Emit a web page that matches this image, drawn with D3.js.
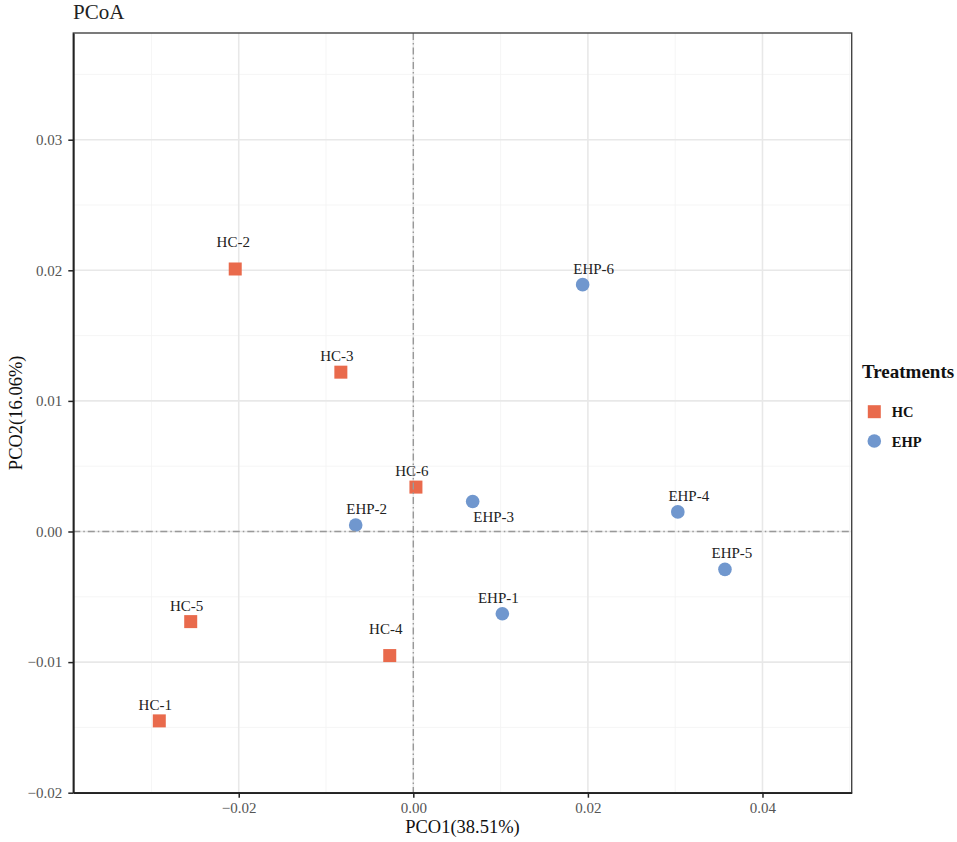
<!DOCTYPE html>
<html>
<head>
<meta charset="utf-8">
<script src="https://cdn.jsdelivr.net/npm/d3@7"></script>
<style>
  body { margin: 0; background: #fff; }
  svg { display: block; }
  svg text { font-family: "Liberation Serif", "Times New Roman", serif; }
</style>
</head>
<body>
<svg id="chart" width="957" height="842"></svg>
<script>
// sample names, group and coordinates
const samples = ["HC-1", "HC-2", "HC-3", "HC-4", "HC-5", "HC-6",
                 "EHP-1", "EHP-2", "EHP-3", "EHP-4", "EHP-5", "EHP-6"];
const groups = ["HC", "HC", "HC", "HC", "HC", "HC",
                "EHP", "EHP", "EHP", "EHP", "EHP", "EHP"];
const pco1 = [-0.0291, -0.0204, -0.0083, -0.0027, -0.0255, 0.0003,
              0.0102, -0.0066, 0.0068, 0.0303, 0.0357, 0.0194];
const pco2 = [-0.0145, 0.0201, 0.0122, -0.0095, -0.0069, 0.0034,
              -0.0063, 0.0005, 0.0023, 0.0015, -0.0029, 0.0189];
const treatments = ["HC", "EHP"];
const xTicks = [-0.02, 0.00, 0.02, 0.04];
const yTicks = [-0.02, -0.01, 0.00, 0.01, 0.02, 0.03];

// little label shifts (like ggrepel did)
const nudge = {
  "HC-2": [-2, -22], "HC-4": [-4, -22], "EHP-3": [21, 21],
  "EHP-2": [11, -11], "EHP-6": [11, -11], "EHP-4": [11, -11], "EHP-5": [7, -11]
};

const serif = "Liberation Serif, Times New Roman, serif";
const svg = d3.select("#chart");
const m = { left: 73.3, right: 851.7, top: 33, bottom: 792.7 };

const x = d3.scaleLinear().domain([-0.03895, 0.05022]).range([m.left, m.right]);
const y = d3.scaleLinear().domain([-0.02, 0.03817]).range([m.bottom, m.top]);
const color = d3.scaleOrdinal().domain(treatments).range(["#E96A4C", "#7097CE"]);

const fmt = d3.format(".2f");
const fmtTick = v => fmt(v).replace("-", "\u2212");

// minor grid
const xMinor = [-0.03, -0.01, 0.01, 0.03, 0.05];
const yMinor = [-0.015, -0.005, 0.005, 0.015, 0.025, 0.035];
svg.append("g").selectAll("line").data(xMinor).join("line")
  .attr("x1", d => x(d)).attr("x2", d => x(d)).attr("y1", m.top).attr("y2", m.bottom)
  .attr("stroke", "#f3f3f3").attr("stroke-width", 0.8);
svg.append("g").selectAll("line").data(yMinor).join("line")
  .attr("x1", m.left).attr("x2", m.right).attr("y1", d => y(d)).attr("y2", d => y(d))
  .attr("stroke", "#f3f3f3").attr("stroke-width", 0.8);

// major grid
svg.append("g").selectAll("line").data(xTicks).join("line")
  .attr("x1", d => x(d)).attr("x2", d => x(d)).attr("y1", m.top).attr("y2", m.bottom)
  .attr("stroke", "#e8e8e8").attr("stroke-width", 1.6);
svg.append("g").selectAll("line").data(yTicks).join("line")
  .attr("x1", m.left).attr("x2", m.right).attr("y1", d => y(d)).attr("y2", d => y(d))
  .attr("stroke", "#e8e8e8").attr("stroke-width", 1.6);

// points
const data = samples.map((s, i) => ({ name: s, group: groups[i], x: pco1[i], y: pco2[i] }));
const pts = svg.append("g");
pts.selectAll("rect").data(data.filter(d => d.group === "HC")).join("rect")
  .attr("x", d => x(d.x) - 6.5).attr("y", d => y(d.y) - 6.5)
  .attr("width", 13).attr("height", 13)
  .attr("fill", d => color(d.group));
pts.selectAll("circle").data(data.filter(d => d.group === "EHP")).join("circle")
  .attr("cx", d => x(d.x)).attr("cy", d => y(d.y)).attr("r", 6.8)
  .attr("fill", d => color(d.group));

// labels
svg.append("g").selectAll("text").data(data).join("text")
  .attr("x", d => x(d.x) + (nudge[d.name] ? nudge[d.name][0] : -4))
  .attr("y", d => y(d.y) + (nudge[d.name] ? nudge[d.name][1] : -11))
  .attr("text-anchor", "middle")
  .attr("font-family", serif)
  .attr("font-size", 15).attr("fill", "#222")
  .text(d => d.name);

// zero reference lines, dot-dash
svg.append("line")
  .attr("x1", x(0)).attr("x2", x(0)).attr("y1", m.top).attr("y2", m.bottom)
  .attr("stroke", "#999").attr("stroke-width", 1.4).attr("stroke-dasharray", "7,3,1.5,3");
svg.append("line")
  .attr("x1", m.left).attr("x2", m.right).attr("y1", y(0)).attr("y2", y(0))
  .attr("stroke", "#999").attr("stroke-width", 1.4).attr("stroke-dasharray", "7,3,1.5,3");

// panel border
svg.append("rect")
  .attr("x", m.left).attr("y", m.top)
  .attr("width", m.right - m.left).attr("height", m.bottom - m.top)
  .attr("fill", "none").attr("stroke", "#444").attr("stroke-width", 1.4);

// axes
const xAxis = svg.append("g").attr("transform", `translate(0,${m.bottom})`)
  .call(d3.axisBottom(x).tickValues(xTicks).tickFormat(fmtTick)
    .tickSize(5).tickSizeOuter(0).tickPadding(4.5));
const yAxis = svg.append("g").attr("transform", `translate(${m.left},0)`)
  .call(d3.axisLeft(y).tickValues(yTicks).tickFormat(fmtTick)
    .tickSize(5).tickSizeOuter(0).tickPadding(6));
[xAxis, yAxis].forEach(a => {
  a.attr("font-family", serif);
  a.select(".domain").attr("stroke", "#222").attr("stroke-width", 1.8);
  a.selectAll(".tick line").attr("stroke", "#222").attr("stroke-width", 1.5);
  a.selectAll(".tick text").attr("font-size", 15).attr("fill", "#555")
    .attr("font-family", serif);
});

// titles
svg.append("text").attr("x", 73).attr("y", 19).attr("font-family", serif)
  .attr("font-size", 21).attr("fill", "#222").text("PCoA");
svg.append("text").attr("x", (m.left + m.right) / 2).attr("y", 833).attr("font-family", serif)
  .attr("text-anchor", "middle").attr("font-size", 18.5).attr("fill", "#111").text("PCO1(38.51%)");
svg.append("text").attr("transform", `translate(22,${(m.top + m.bottom) / 2}) rotate(-90)`)
  .attr("font-family", serif)
  .attr("text-anchor", "middle").attr("font-size", 18.5).attr("fill", "#111").text("PCO2(16.06%)");

// legend
const lg = svg.append("g").attr("font-family", serif);
lg.append("text").attr("x", 862).attr("y", 378).attr("font-size", 19)
  .attr("font-weight", "bold").attr("fill", "#111").text("Treatments");
const items = lg.selectAll("g.item").data(treatments).join("g")
  .attr("class", "item")
  .attr("transform", (d, i) => `translate(874.3,${411.7 + i * 29.3})`);
items.filter(d => d === "HC").append("rect")
  .attr("x", -6.5).attr("y", -6.5).attr("width", 13).attr("height", 13).attr("fill", d => color(d));
items.filter(d => d === "EHP").append("circle").attr("r", 6.8).attr("fill", d => color(d));
items.append("text").attr("x", 17.5).attr("y", 5.5).attr("font-size", 14.5)
  .attr("font-weight", "bold").attr("fill", "#111").text(d => d);
</script>
</body>
</html>
